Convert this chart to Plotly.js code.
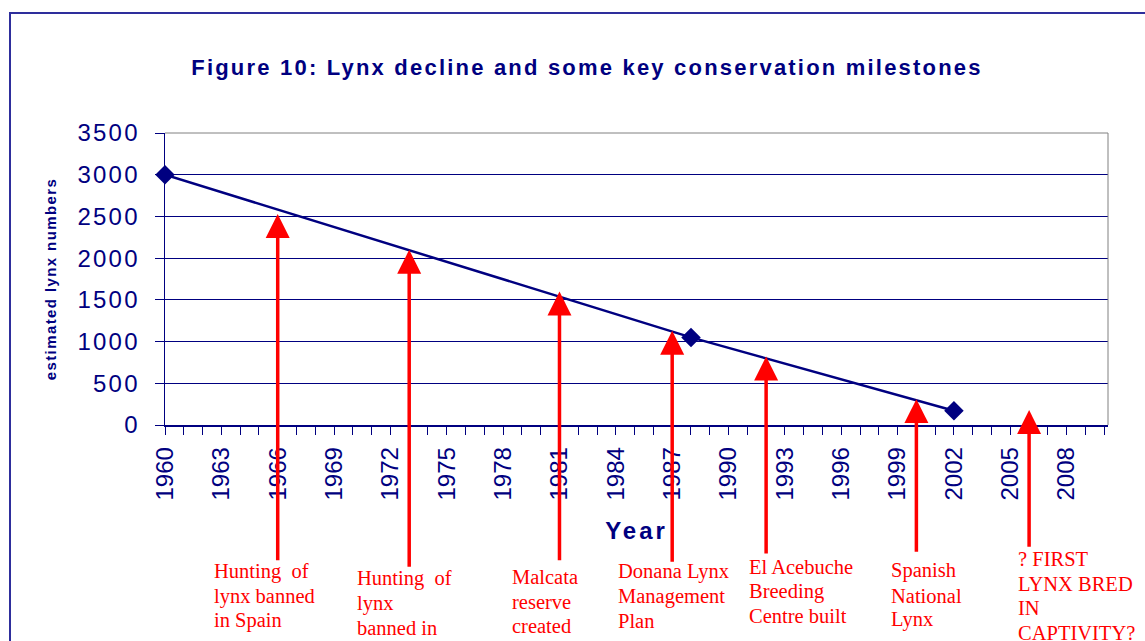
<!DOCTYPE html>
<html><head><meta charset="utf-8">
<script src="https://cdn.plot.ly/plotly-3.0.1.min.js"></script>
<style>html,body{margin:0;padding:0;background:#fff}#chart{width:1145px;height:641px}</style>
</head><body><div id="chart"></div>
<script>
// ---- data ----
const years = [1960, 1988, 2002];
const lynxNumbers = [3000, 1050, 170];
const milestoneYears = [1966, 1973, 1981, 1987, 1992, 2000, 2006];
const milestoneLevels = [2530, 2100, 1600, 1130, 820, 310, 180];
const milestoneLabels = [
  "Hunting  of<br>lynx banned<br>in Spain",
  "Hunting  of<br>lynx<br>banned in",
  "Malcata<br>reserve<br>created",
  "Donana Lynx<br>Management<br>Plan",
  "El Acebuche<br>Breeding<br>Centre built",
  "Spanish<br>National<br>Lynx",
  "? FIRST<br>LYNX BRED<br>IN<br>CAPTIVITY?"
];
const xTickYears = [1960, 1963, 1966, 1969, 1972, 1975, 1978, 1981, 1984, 1987, 1990, 1993, 1996, 1999, 2002, 2005, 2008];
const yTickValues = [0, 500, 1000, 1500, 2000, 2500, 3000, 3500];

// ---- layout constants (positions, not data) ----
const NAVY = '#000080';
const RED = '#ff0000';
const W = 1145, H = 641;
const M = {l: 165, r: 37, t: 133, b: 216};
const PW = W - M.l - M.r, PH = H - M.t - M.b;
const px2paperX = p => (p - M.l) / PW;
const px2paperY = p => (H - M.b - p) / PH;
const arrowTail = [-1740, -1820, -1740, -1760, -1660, -1640, -1580];
const labelLeftPx = [212, 355, 510, 616, 747, 889, 1016];
const labelBaselinePx = [580, 587, 585, 580, 575, 579, 567];
const LINE_GAP = 24.6;

const traces = [{
  type: 'scatter', mode: 'lines+markers',
  x: years, y: lynxNumbers,
  line: {color: NAVY, width: 2.5},
  marker: {symbol: 'diamond', size: 15, color: NAVY},
  cliponaxis: false, showlegend: false, hoverinfo: 'x+y'
}];

const annotations = [];
milestoneYears.forEach((yr, i) => {
  annotations.push({
    x: yr, y: milestoneLevels[i], xref: 'x', yref: 'y',
    axref: 'x', ayref: 'y', ax: yr, ay: arrowTail[i],
    text: ' ', showarrow: true, arrowhead: 2, arrowsize: 1.37,
    arrowwidth: 3.5, arrowcolor: RED, standoff: 0
  });
  milestoneLabels[i].split('<br>').forEach((line, j) => {
    annotations.push({
      x: px2paperX(labelLeftPx[i]), y: px2paperY(labelBaselinePx[i] + j * LINE_GAP),
      xref: 'paper', yref: 'paper', xanchor: 'left', yanchor: 'bottom', align: 'left',
      yshift: -5,
      showarrow: false, text: line,
      font: {family: 'Liberation Serif', size: 20.5, color: RED}
    });
  });
});

const layout = {
  width: W, height: H,
  margin: M,
  paper_bgcolor: '#ffffff', plot_bgcolor: '#ffffff',
  showlegend: false,
  title: {
    text: '<span style="letter-spacing:2.2px">Figure 10: Lynx decline and some key conservation milestones</span>',
    font: {family: 'Liberation Sans', size: 22, color: NAVY, weight: 700},
    x: 587 / W, xanchor: 'center', xref: 'container',
    y: 1 - 67 / H, yanchor: 'middle', yref: 'container'
  },
  xaxis: {
    range: [1960, 2010.2],
    tickmode: 'array', tickvals: xTickYears, ticktext: xTickYears.map(String),
    tickangle: -90,
    tickfont: {family: 'Liberation Sans', size: 24, color: NAVY},
    ticks: 'outside', ticklen: 8, tickcolor: NAVY, tickwidth: 1,
    ticklabelstandoff: 3,
    minor: {tickmode: 'linear', tick0: 1960, dtick: 1, ticks: 'outside', ticklen: 8, tickcolor: NAVY, tickwidth: 1, showgrid: false},
    showline: true, linecolor: NAVY, linewidth: 1.5,
    showgrid: false, zeroline: false,
    title: {
      text: '<span style="letter-spacing:3px">Year</span>',
      font: {family: 'Liberation Sans', size: 24, color: NAVY, weight: 700},
      standoff: 22
    }
  },
  yaxis: {
    range: [0, 3500],
    tickmode: 'array', tickvals: yTickValues,
    ticktext: yTickValues.map(v => '<span style="letter-spacing:2.2px">' + v + '</span>'),
    tickfont: {family: 'Liberation Sans', size: 24, color: NAVY},
    ticks: 'outside', ticklen: 9, tickcolor: NAVY, tickwidth: 1,
    ticklabelstandoff: 10,
    showline: true, linecolor: NAVY, linewidth: 1.5,
    showgrid: true, gridcolor: NAVY, gridwidth: 1, zeroline: false,
    title: {
      text: '<span style="letter-spacing:1.4px">estimated lynx numbers</span>',
      font: {family: 'Liberation Sans', size: 15, color: NAVY, weight: 700},
      standoff: 17
    }
  },
  shapes: [
    {type: 'line', xref: 'paper', yref: 'paper', x0: 0, x1: 1, y0: 1, y1: 1, line: {color: '#808080', width: 1}, layer: 'above'},
    {type: 'line', xref: 'paper', yref: 'paper', x0: 1, x1: 1, y0: 0, y1: 1, line: {color: '#808080', width: 1}, layer: 'above'},
    {type: 'rect', xref: 'paper', yref: 'paper',
     x0: px2paperX(10), x1: px2paperX(1170), y0: px2paperY(670), y1: px2paperY(13),
     line: {color: '#2E2E9C', width: 2}, fillcolor: 'rgba(0,0,0,0)', layer: 'below'}
  ],
  annotations: annotations
};

Plotly.newPlot('chart', traces, layout, {displayModeBar: false, staticPlot: true});
</script>
</body></html>
